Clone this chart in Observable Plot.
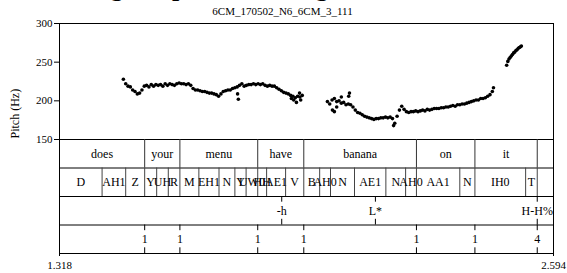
<!DOCTYPE html>
<html>
<head>
<meta charset="utf-8">
<script src="https://cdn.jsdelivr.net/npm/d3@7"></script>
<script src="https://cdn.jsdelivr.net/npm/@observablehq/plot@0.6"></script>
<style>
  html, body { margin: 0; padding: 0; background: #fff; }
  svg { display: block; }
  #chart svg, #chart svg text { font-family: "Liberation Serif", "Times New Roman", serif !important; }
</style>
</head>
<body>
<div id="chart"></div>
<script>
// ---------- data ----------
const titleText = "Original pitch tracking";
const subtitleText = "6CM_170502_N6_6CM_3_111";
const tStart = 1.318, tEnd = 2.594;
const pitchTicks = [150, 200, 250, 300];
const axisLabel = "Pitch (Hz)";

const pitchTimes1 = [1.483,1.489,1.495,1.501,1.507,1.513,1.519,1.525,1.531,1.537,
  1.543,1.549,1.555,1.561,1.567,1.573,1.579,1.585,1.591,1.597,
  1.603,1.609,1.615,1.621,1.627,1.633,1.639,1.645,1.651,1.657,
  1.663,1.669,1.675,1.681,1.687,1.693,1.699,1.705,1.711,1.717,
  1.723,1.729,1.735,1.741,1.747,1.753,1.759,1.765,1.771,1.777,
  1.783,1.789,1.795,1.801,1.807,1.813,1.819,1.825,1.831,1.837,
  1.843,1.849,1.855,1.861,1.867,1.873,1.879,1.885,1.891,1.897,
  1.903,1.909,1.915,1.921,1.927,1.933,1.939,1.945];
const pitchValues1 = [228,222,219,218,214,212,209,210,214,219,
  220,218,221,219,221,220,221,219,222,220,
  222,221,220,222,223,222,222,221,222,220,
  216,214,214,213,212,212,211,210,210,209,
  208,206,209,212,213,214,214,216,217,218,
  220,222,219,220,221,221,222,221,222,221,
  222,220,219,220,219,219,217,215,213,211,
  210,209,207,206,204,206,205,207];

const pitchTimes2 = [2.010,2.016,2.022,2.028,2.034,2.040,2.046,2.052,2.058,2.064,
  2.070,2.076,2.082,2.088,2.094,2.100,2.106,2.112,2.118,2.124,
  2.130,2.136,2.142,2.148,2.154,2.160,2.166,2.172,2.178,2.184,
  2.190,2.196,2.202,2.208,2.214,2.220,2.226,2.232,2.238,2.244,
  2.250,2.256,2.262,2.268,2.274,2.280,2.286,2.292,2.298,2.304,
  2.310,2.316,2.322,2.328,2.334,2.340,2.346,2.352,2.358,2.364,
  2.370,2.376,2.382,2.388,2.394,2.400,2.406,2.412,2.418,2.424,
  2.430,2.436,2.439];
const pitchValues2 = [199,196,201,203,199,200,197,198,195,196,
  195,192,188,185,184,182,180,179,178,177,
  176,177,177,178,178,179,178,179,177,171,
  180,188,193,189,186,185,186,186,187,186,
  187,188,187,189,188,189,190,190,190,191,
  191,192,192,193,194,193,195,195,196,196,
  197,198,199,200,201,201,203,203,204,206,
  208,212,217];

const pitchTimes3 = [2.473,2.476,2.479,2.482,2.485,2.488,2.491,2.494,2.497,2.500,2.503,2.506,2.509,2.511];
const pitchValues3 = [246,251,254,256,258,260,262,263,265,266,268,269,270,271];

const strayTimes = [1.778,1.780,1.917,1.923,1.930,1.938,1.941,2.023,2.028,2.034,2.046,2.065,2.067,2.181];
const strayValues = [209,202,203,201,198,210,201,188,186,192,205,206,210,168];

const wordLabels = ["does","your","menu","have","banana","on","it",""];
const wordBounds = [1.318,1.538,1.629,1.830,1.949,2.240,2.391,2.552,2.594];

const phoneLabels = ["D","AH1","Z","Y","UH","R","M","EH1","N","Y","UW0","HH","AE1","V",
  "B","AH0","N","AE1","N","AH0","AA1","N","IH0","T",""];
const phoneBounds = [1.318,1.428,1.489,1.538,1.569,1.599,1.629,1.678,1.730,1.771,1.800,1.830,
  1.853,1.902,1.949,1.990,2.018,2.080,2.161,2.212,2.240,2.352,2.391,2.522,2.552,2.594];

const toneTimes = [1.892, 2.134, 2.552];
const toneLabels = ["-h", "L*", "H-H%"];

const breakTimes = [1.538, 1.629, 1.830, 1.949, 2.240, 2.391, 2.552];
const breakLabels = ["1","1","1","1","1","1","4"];

// ---------- build ----------
const yMin = 2.6;                 // bottom of the tier area in the shared y scale
const rowH = (150 - yMin) / 4;    // one tier row
const rowTop = k => 150 - k * rowH;

const pitch = [
  ...pitchTimes1.map((t, i) => ({t, f: pitchValues1[i]})),
  ...pitchTimes2.map((t, i) => ({t, f: pitchValues2[i]})),
  ...pitchTimes3.map((t, i) => ({t, f: pitchValues3[i]})),
  ...strayTimes.map((t, i) => ({t, f: strayValues[i]}))
];
const intervals = (labels, bounds) => labels.map((lab, i) => ({a: bounds[i], b: bounds[i + 1], lab}));
const words = intervals(wordLabels, wordBounds);
const phones = intervals(phoneLabels, phoneBounds);
const tones = toneTimes.map((t, i) => ({t, lab: toneLabels[i]}));
const breaks = breakTimes.map((t, i) => ({t, lab: breakLabels[i]}));
const inner = b => b.slice(1, -1);
const tickLen = rowH * 0.2;
const serif = "Liberation Serif, Times New Roman, serif";

const pointTier = (pts, k) => [
  Plot.ruleX(pts, {x: "t", y1: rowTop(k), y2: rowTop(k) - tickLen, stroke: "#000"}),
  Plot.ruleX(pts, {x: "t", y1: rowTop(k + 1), y2: rowTop(k + 1) + tickLen, stroke: "#000"}),
  Plot.text(pts, {x: "t", y: rowTop(k) - rowH / 2, text: "lab", fontSize: 12, fontFamily: serif})
];

const chart = Plot.plot({
  width: 567,
  height: 273,
  marginLeft: 59,
  marginRight: 14,
  marginTop: 23,
  marginBottom: 20,
  style: {fontFamily: serif, fontSize: "11px", background: "#fff", color: "#000"},
  x: {domain: [tStart, tEnd]},
  y: {domain: [yMin, 300]},
  marks: [
    Plot.ruleY([rowTop(0), rowTop(1), rowTop(2), rowTop(3)], {stroke: "#000"}),
    Plot.ruleX(inner(wordBounds), {y1: rowTop(0), y2: rowTop(1), stroke: "#333"}),
    Plot.ruleX(inner(phoneBounds), {y1: rowTop(1), y2: rowTop(2), stroke: "#444"}),
    Plot.text(words, {x: d => (d.a + d.b) / 2, y: rowTop(0) - rowH / 2, text: "lab", fontSize: 12, fontFamily: serif}),
    Plot.text(phones, {x: d => (d.a + d.b) / 2, y: rowTop(1) - rowH / 2, text: "lab", fontSize: 12, fontFamily: serif}),
    ...pointTier(tones, 2),
    ...pointTier(breaks, 3),
    Plot.dot(pitch, {x: "t", y: "f", r: 1.8, fill: "#000", stroke: null}),
    Plot.frame({stroke: "#000"}),
    Plot.axisY({ticks: pitchTicks, tickSize: 5, tickPadding: 2, label: null, fontSize: 11, fontFamily: serif}),
    Plot.axisX({ticks: [tStart, tEnd], tickFormat: d => d.toFixed(3), tickSize: 3, tickPadding: 5, label: null, fontSize: 11, fontFamily: serif}),
    Plot.text([axisLabel], {frameAnchor: "left", dx: -44, rotate: -90, fontSize: 12, fontFamily: serif}),
    Plot.text([subtitleText], {frameAnchor: "top", lineAnchor: "middle", dx: -24, dy: -12, fontSize: 11, fontFamily: serif}),
    Plot.text([titleText], {frameAnchor: "top-left", textAnchor: "start", lineAnchor: "middle", dx: 12, dy: -35.5, fontSize: 26, fontWeight: "bold", fontFamily: serif})
  ]
});
document.getElementById("chart").appendChild(chart);
</script>
</body>
</html>
